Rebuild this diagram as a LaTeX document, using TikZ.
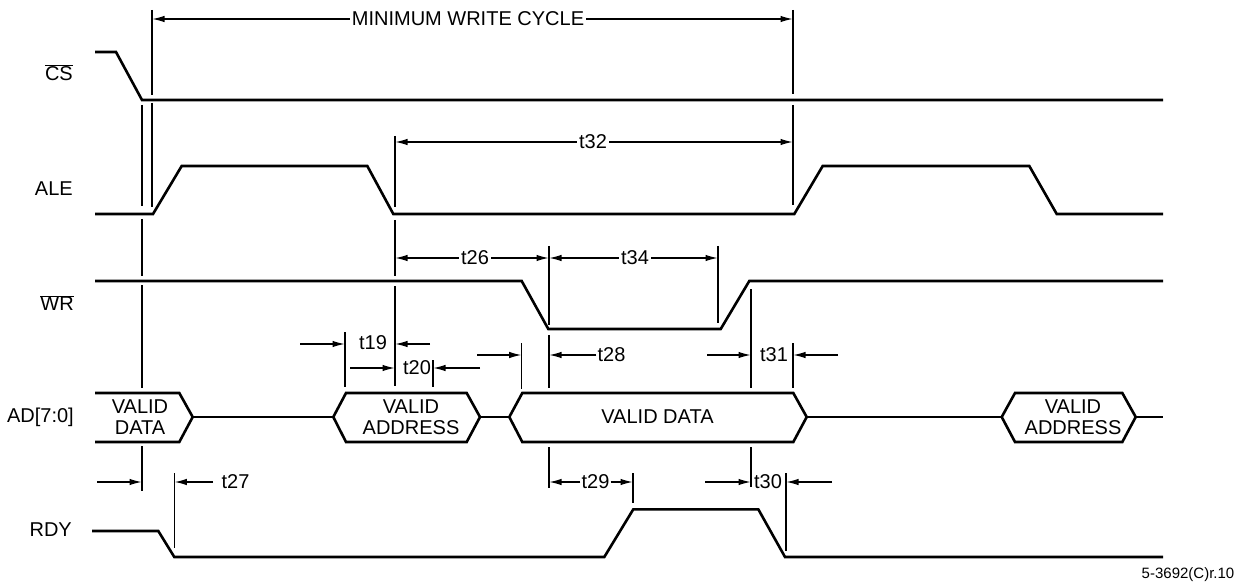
\documentclass[tikz,border=0pt]{standalone}
\usepackage{fontspec}
\setmainfont{Liberation Sans}
\usetikzlibrary{arrows.meta}
\newcommand\ovl[1]{$\overline{\hbox{#1}}$}
\begin{document}
\begin{tikzpicture}[x=1pt,y=-1pt,
  wave/.style={line width=2.6pt,line join=miter},
  guide/.style={line width=1.1pt},
  dim/.style={line width=1.1pt,-{Latex[length=12pt,width=6.5pt]}},
  dimboth/.style={line width=1.1pt,{Latex[length=12pt,width=6.5pt]}-{Latex[length=12pt,width=6.5pt]}},
  lbl/.style={font=\fontsize{20}{21}\selectfont,inner sep=1pt},
  sig/.style={lbl,anchor=east},
  cut/.style={lbl,fill=white,inner xsep=2pt,inner ysep=0pt}]
\useasboundingbox (0,0) rectangle (1241,585);

% signal names
\node[sig] (ncs) at (74,73) {\ovl{CS}};
\node[sig] (nale) at (74,189) {ALE};
\node[sig] (nwr) at (75,303) {\ovl{WR}};
\node[sig] (nad) at (75,417) {AD[7:0]};
\node[sig] (nrdy) at (73,530) {RDY};

% waveforms
\draw[wave] (95,52) -- (116,52) -- (142,100) -- (1163,100);
\draw[wave] (95,214) -- (153,214) -- (181.7,166) -- (367.3,166) -- (393.3,214) -- (794.3,214) -- (822.7,166) -- (1029.3,166) -- (1056.7,214) -- (1163,214);
\draw[wave] (95,281) -- (521.7,281) -- (548.3,329) -- (720.7,329) -- (749.3,281) -- (1163,281);
\draw[wave] (95,393) -- (179.3,393) -- (192.7,417) -- (179.3,442) -- (95,442);
\draw[wave] (192.7,417) -- (333.3,417);
\draw[wave] (333.3,417) -- (346,393) -- (466.7,393) -- (480,417) -- (466.7,442) -- (346,442) -- cycle;
\draw[wave] (480,417) -- (509.3,417);
\draw[wave] (509.3,417) -- (522.3,393) -- (793.3,393) -- (806.7,417) -- (793.3,442) -- (522.3,442) -- cycle;
\draw[wave] (806.7,417) -- (1001.7,417);
\draw[wave] (1001.7,417) -- (1015,393) -- (1122.3,393) -- (1135.7,417) -- (1122.3,442) -- (1015,442) -- cycle;
\draw[wave] (1135.7,417) -- (1163,417);
\draw[wave] (92,531) -- (158.3,531) -- (174.3,557) -- (604.3,557) -- (633.3,509.3) -- (758.3,509.3) -- (785,557) -- (1163,557);

% bus texts
\node[lbl,align=center] (bd1) at (140,417) {VALID\\DATA};
\node[lbl,align=center] (ba1) at (411,417) {VALID\\ADDRESS};
\node[lbl] (bd2) at (657.5,417) {VALID DATA};
\node[lbl,align=center] (ba2) at (1073,417) {VALID\\ADDRESS};

% guide lines
\draw[guide] (152,10) -- (152,95) (152,103) -- (152,207);
\draw[guide] (142,105) -- (142,206) (142,219) -- (142,276) (142,285) -- (142,388) (142,446) -- (142,491);
\draw[guide] (793,10) -- (793,94) (793,105) -- (793,205) (793,343) -- (793,388);
\draw[guide] (395,136) -- (395,207) (395,220) -- (395,276) (395,286) -- (395,386);
\draw[guide] (549,246) -- (549,325) (549,335) -- (549,388) (549,447) -- (549,488);
\draw[guide] (718,246) -- (718,323);
\draw[guide] (751,289) -- (751,388) (751,447) -- (751,487);
\draw[guide] (345,332) -- (345,387);
\draw[guide] (433,360) -- (433,387);
\draw[guide] (521.7,343) -- (521.7,389);
\draw[guide] (174.3,473) -- (174.3,548);
\draw[guide] (633,473) -- (633,503);
\draw[guide] (786,473) -- (786,551);

% dimension arrows
\draw[dimboth] (152.5,19) -- (792.5,19);
\node[cut] (lmw) at (468,19) {MINIMUM WRITE CYCLE};
\draw[dimboth] (395.5,142) -- (792.5,142);
\node[cut] (l32) at (593,142) {t32};
\draw[dimboth] (395.5,258) -- (548.5,258);
\node[cut] (l26) at (475,258) {t26};
\draw[dimboth] (549.5,258) -- (717.5,258);
\node[cut] (l34) at (635,258) {t34};

\node[lbl] (l19) at (373,343) {t19};
\draw[dim] (300,344) -- (344.5,344);
\draw[dim] (430,344) -- (395.5,344);
\node[lbl] (l20) at (417,368) {t20};
\draw[dim] (350,368) -- (394.5,368);
\draw[dim] (480,368) -- (433.5,368);

\draw[dim] (477,355) -- (521.2,355);
\node[lbl] (l28) at (611.5,355) {t28};
\draw[dim] (l28.west) -- (549.5,355);
\node[lbl] (l31) at (774,355) {t31};
\draw[dim] (707,355) -- (750.5,355);
\draw[dim] (838,355) -- (793.5,355);

\node[lbl] (l27) at (235.5,482) {t27};
\draw[dim] (97,482) -- (141.5,482);
\draw[dim] (213,482) -- (174.8,482);
\node[lbl] (l29) at (595.5,482) {t29};
\draw[dim] (l29.west) -- (549.5,482);
\draw[dim] (l29.east) -- (632.5,482);
\node[lbl] (l30) at (768,482) {t30};
\draw[dim] (705,482) -- (750.5,482);
\draw[dim] (832,482) -- (786.5,482);

\node[font=\fontsize{15}{17}\selectfont,inner sep=0pt] (fig) at (1188,575) {5-3692(C)r.10};
\end{tikzpicture}
\end{document}
